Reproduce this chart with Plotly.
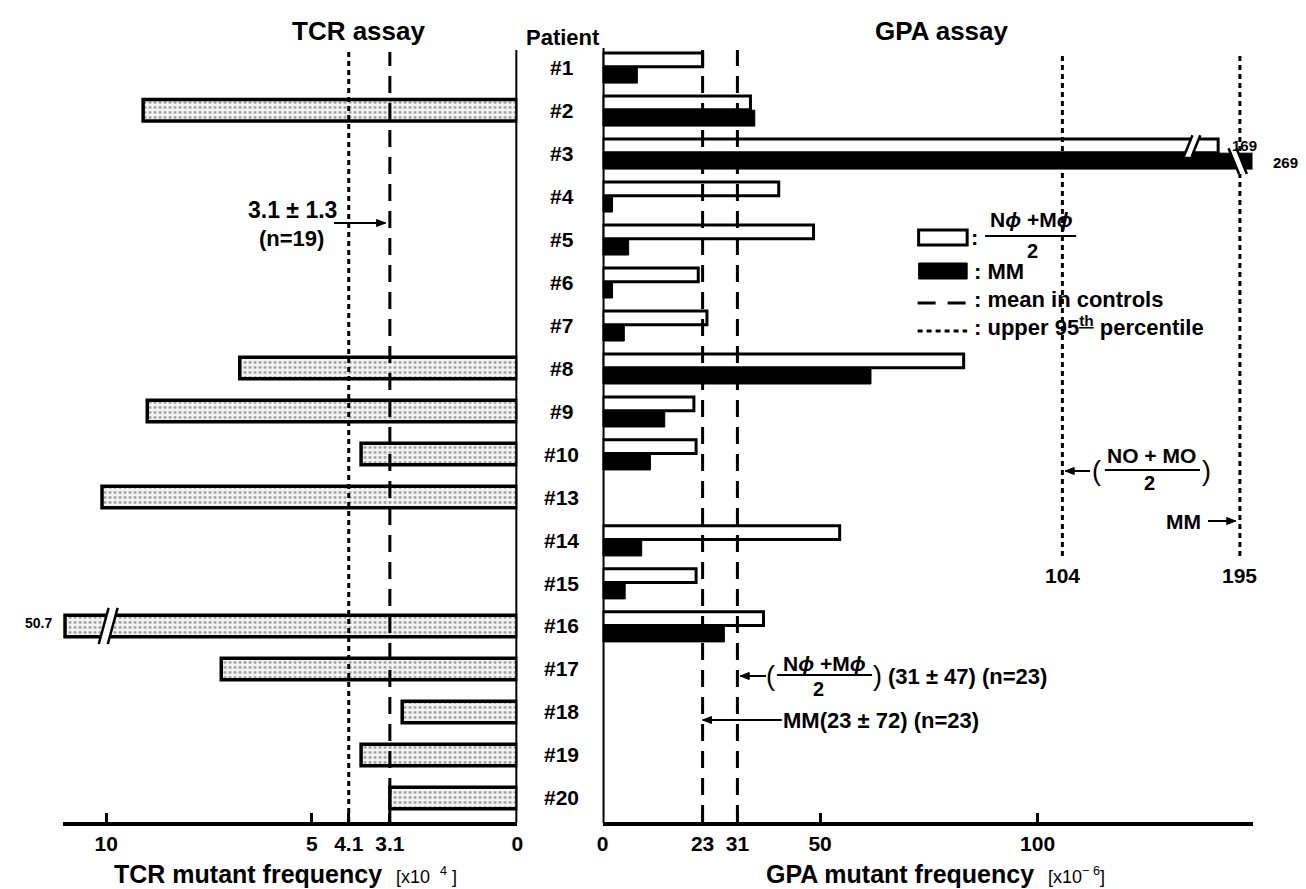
import numpy as np
import plotly.graph_objects as go

W, H = 1306, 889
FONT = "Liberation Sans, Arial, sans-serif"

# ---------------- data ----------------
patients = ["#1", "#2", "#3", "#4", "#5", "#6", "#7", "#8", "#9", "#10",
            "#13", "#14", "#15", "#16", "#17", "#18", "#19", "#20"]
tcr_mf = [None, 9.1, None, None, None, None, None, 6.75, 9.0, 3.8,
          10.1, None, None, 50.7, 7.2, 2.8, 3.8, 3.1]
gpa_nm = [23, 34, 169, 40.5, 48.5, 22, 24, 83, 21, 21.5,
          None, 54.5, 21.5, 37, None, None, None, None]
gpa_mm = [8, 35, 269, 2.3, 6, 2.3, 5, 61.7, 14.3, 11,
          None, 9, 5.2, 28, None, None, None, None]

tcr_mean, tcr_p95 = 3.1, 4.1
gpa_mean_mm, gpa_mean_nm = 23, 31
gpa_p95_nm, gpa_p95_mm = 104, 195

tcr_ticks = [10, 5, 4.1, 3.1, 0]
tcr_ticktext = ["10", "5", "4.1", "3.1", "0"]
gpa_ticks = [0, 23, 31, 50, 100]
gpa_ticktext = ["0", "23", "31", "50", "100"]

# broken-axis scales (values beyond the break are compressed)
TCR_BRK_SRC = [0, 10.5, 50.7]
TCR_BRK_DST = [0, 10.5, 11.0]
GPA_BRK_SRC = [0, 100, 104, 169, 195, 269]
GPA_BRK_DST = [0, 100, 105.7, 141.5, 146.5, 149.8]


def tcr_disp(v):
    return float(np.interp(v, TCR_BRK_SRC, TCR_BRK_DST))


def gpa_disp(v):
    return float(np.interp(v, GPA_BRK_SRC, GPA_BRK_DST))


def px(x):
    return x / W


def py(y):
    return 1 - y / H


rows = list(range(len(patients)))

fig = go.Figure()

# TCR bars (left, stippled)
ty = [r for r, v in zip(rows, tcr_mf) if v is not None]
tx = [tcr_disp(v) for v in tcr_mf if v is not None]
fig.add_trace(go.Bar(
    x=tx, y=ty, orientation="h", xaxis="x", yaxis="y",
    width=0.5, offset=-0.25,
    marker=dict(color="#f3f3f3", line=dict(color="black", width=3.5),
                pattern=dict(shape=".", fgcolor="#444", bgcolor="#f3f3f3",
                             size=5, solidity=0.25)),
    showlegend=False, hoverinfo="skip"))

# GPA bars (right)
ny = [r for r, v in zip(rows, gpa_nm) if v is not None]
nx = [gpa_disp(v) for v in gpa_nm if v is not None]
my = [r for r, v in zip(rows, gpa_mm) if v is not None]
mx = [gpa_disp(v) for v in gpa_mm if v is not None]
fig.add_trace(go.Bar(
    x=nx, y=ny, orientation="h", xaxis="x2", yaxis="y",
    width=0.32, offset=-0.33,
    marker=dict(color="white", line=dict(color="black", width=3)),
    showlegend=False, hoverinfo="skip"))
fig.add_trace(go.Bar(
    x=mx, y=my, orientation="h", xaxis="x2", yaxis="y",
    width=0.37, offset=0.0,
    marker=dict(color="black", line=dict(color="black", width=1)),
    showlegend=False, hoverinfo="skip"))

shapes = []
ann = []

DASH = "17px,10px"
DOT = "5px,4px"

# reference lines (left)
shapes.append(dict(type="line", xref="x", yref="paper", x0=tcr_p95, x1=tcr_p95,
                   y0=py(814), y1=py(44), line=dict(color="black", width=3, dash=DOT)))
shapes.append(dict(type="line", xref="x", yref="paper", x0=tcr_mean, x1=tcr_mean,
                   y0=py(814), y1=py(44), line=dict(color="black", width=3, dash=DASH)))
# reference lines (right)
for v in (gpa_mean_mm, gpa_mean_nm):
    shapes.append(dict(type="line", xref="x2", yref="paper", x0=v, x1=v,
                       y0=py(814), y1=py(42), line=dict(color="black", width=3, dash=DASH)))
for v in (gpa_p95_nm, gpa_p95_mm):
    d = gpa_disp(v)
    shapes.append(dict(type="line", xref="x2", yref="paper", x0=d, x1=d,
                       y0=py(548), y1=py(44), line=dict(color="black", width=3, dash=DOT)))

# vertical axis lines at zero
shapes.append(dict(type="line", xref="x", yref="paper", x0=0, x1=0,
                   y0=py(815), y1=py(42), line=dict(color="black", width=4)))
shapes.append(dict(type="line", xref="x2", yref="paper", x0=0, x1=0,
                   y0=py(815), y1=py(40), line=dict(color="black", width=4)))


def add_break(xref, xc, yc, half_h, slant, gap):
    # white gap parallelogram with two black slanted edges
    a = (xc - gap / 2 - slant, yc - half_h)
    b = (xc + gap / 2 - slant, yc - half_h)
    c = (xc + gap / 2 + slant, yc + half_h)
    d = (xc - gap / 2 + slant, yc + half_h)
    shapes.append(dict(type="path", xref=xref, yref="y",
                       path=f"M{a[0]},{a[1]} L{b[0]},{b[1]} L{c[0]},{c[1]} L{d[0]},{d[1]} Z",
                       fillcolor="white", line=dict(width=0)))
    for p, q in ((a, d), (b, c)):
        shapes.append(dict(type="line", xref=xref, yref="y", x0=p[0], y0=p[1],
                           x1=q[0], y1=q[1], line=dict(color="black", width=2.5)))


# breaks: TCR #16, GPA #3
r16 = patients.index("#16")
add_break("x", 9.95, r16, 0.42, 0.12, 0.22)
r3 = patients.index("#3")
add_break("x2", 135.5, r3 - 0.165, 0.25, -1.0, 1.8)
add_break("x2", 146.0, r3 + 0.185, 0.3, 1.2, 1.8)


def txt(x, y, s, size=22, xanchor="center", yanchor="middle", bold=True, xref="paper", yref="paper"):
    ann.append(dict(x=x if xref != "paper" else px(x),
                    y=y if yref != "paper" else py(y),
                    xref=xref, yref=yref, text=(f"<b>{s}</b>" if bold else s),
                    showarrow=False, xanchor=xanchor, yanchor=yanchor,
                    font=dict(family=FONT, size=size, color="black")))


def arrow(x_head, y, dx):
    # shaft
    shapes.append(dict(type="line", xref="paper", yref="paper",
                       x0=px(x_head), x1=px(x_head + dx), y0=py(y), y1=py(y),
                       line=dict(color="black", width=2)))
    s = 1 if dx > 0 else -1
    hx, hl, hw = x_head, 9, 3.5
    shapes.append(dict(type="path", xref="paper", yref="paper",
                       path=(f"M{px(hx)},{py(y)} L{px(hx + s * hl)},{py(y - hw)} "
                             f"L{px(hx + s * hl)},{py(y + hw)} Z"),
                       fillcolor="black", line=dict(color="black", width=1)))


def hline(x0, x1, y, w=2):
    shapes.append(dict(type="line", xref="paper", yref="paper", x0=px(x0), x1=px(x1),
                       y0=py(y), y1=py(y), line=dict(color="black", width=w)))


# titles
txt(348, 23, "TCR assay", size=26)
txt(554, 30, "Patient", size=22)
txt(937, 23, "GPA assay", size=26)

# patient labels
for r, p in zip(rows, patients):
    txt(px(553), r, p, size=21, xref="paper", yref="y")
    ann[-1]["x"] = px(553)

# value labels for broken bars
txt(25, 615, "50.7", size=14)
txt(1242, 137, "169", size=15)
txt(1283, 154, "269", size=15)

# TCR mean annotation
txt(328, 202, "3.1 ± 1.3", size=23, xanchor="right")
txt(280, 231, "(n=19)", size=22)
arrow(375, 215, -52)

# legend
shapes.append(dict(type="rect", xref="paper", yref="paper", x0=px(913), x1=px(962),
                   y0=py(237), y1=py(222), fillcolor="white", line=dict(color="black", width=3)))
txt(969, 229, ":", size=22)
txt(1027, 212, "N<i>ϕ</i> +M<i>ϕ</i>", size=21)
hline(980, 1072, 228)
txt(1028, 243, "2", size=20)
shapes.append(dict(type="rect", xref="paper", yref="paper", x0=px(913), x1=px(962),
                   y0=py(271), y1=py(255), fillcolor="black", line=dict(color="black", width=1)))
txt(967, 263, ": MM", size=22, xanchor="left")
shapes.append(dict(type="line", xref="paper", yref="paper", x0=px(912), x1=px(962),
                   y0=py(295), y1=py(295), line=dict(color="black", width=3, dash="18px,12px")))
txt(967, 292, ": mean in controls", size=22, xanchor="left")
shapes.append(dict(type="line", xref="paper", yref="paper", x0=px(912), x1=px(962),
                   y0=py(323), y1=py(323), line=dict(color="black", width=3, dash=DOT)))
txt(967, 318, ": upper 95<sup><u>th</u></sup> percentile", size=22, xanchor="left")

# 95th percentile annotations
arrow(1061, 463, 25)
txt(1093, 463, "(", size=27, bold=False)
txt(1148, 447, "NO + MO", size=21)
hline(1101, 1197, 462)
txt(1146, 475, "2", size=20)
txt(1204, 463, ")", size=27, bold=False)
txt(1200, 513, "MM", size=21, xanchor="right")
arrow(1233, 513, -28)
txt(1058, 567, "104", size=21)
txt(1237, 567, "195", size=21)

# control mean annotations
arrow(733, 668, 26)
txt(764, 668, "(", size=27, bold=False)
txt(818, 655, "N<i>ϕ</i> +M<i>ϕ</i>", size=21)
hline(770, 866, 667)
txt(812, 681, "2", size=20)
txt(872, 668, ")", size=27, bold=False)
txt(880, 668, "(31 ± 47) (n=23)", size=22, xanchor="left")
arrow(695, 712, 80)
txt(774, 712, "MM(23 ± 72) (n=23)", size=22, xanchor="left")

# axis titles
ann.append(dict(x=px(274), y=py(866), xref="paper", yref="paper", showarrow=False,
                text="<b>TCR mutant frequency</b>  <span style='font-size:18px'>[x10  <sup>4</sup> ]</span>",
                font=dict(family=FONT, size=25, color="black"), xanchor="center", yanchor="middle"))
ann.append(dict(x=px(930), y=py(866), xref="paper", yref="paper", showarrow=False,
                text="<b>GPA mutant frequency</b>  <span style='font-size:18px'>[x10<sup>− 6</sup>]</span>",
                font=dict(family=FONT, size=25, color="black"), xanchor="center", yanchor="middle"))

axis_common = dict(showline=True, linewidth=4, linecolor="black", ticks="inside",
                   ticklen=9, tickwidth=2.5, tickcolor="black", showgrid=False,
                   zeroline=False, anchor="y",
                   tickfont=dict(family=FONT, size=21, color="black"))

fig.update_layout(
    width=W, height=H,
    margin=dict(l=0, r=0, t=0, b=0),
    paper_bgcolor="white", plot_bgcolor="white",
    barmode="overlay",
    xaxis=dict(domain=[px(49), px(508)], range=[11.06, 0],
               tickvals=tcr_ticks, ticktext=[f"<b>{t}</b>" for t in tcr_ticktext],
               **axis_common),
    xaxis2=dict(domain=[px(594), px(1250)], range=[0, 149.4],
                tickvals=gpa_ticks, ticktext=[f"<b>{t}</b>" for t in gpa_ticktext],
                **axis_common),
    yaxis=dict(domain=[py(814), py(42)], range=[17.56, -0.40], visible=False),
    shapes=shapes, annotations=ann,
)

fig.write_html("out.html")
